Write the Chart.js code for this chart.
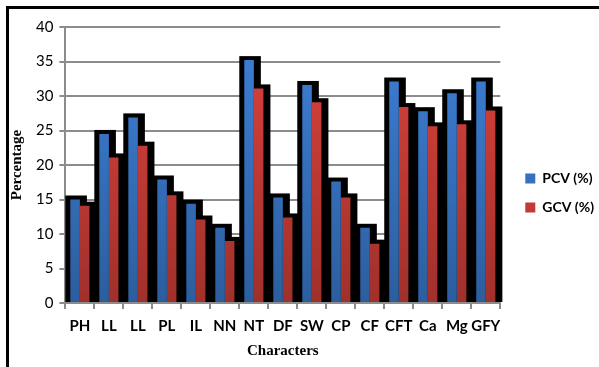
<!DOCTYPE html>
<html lang="en">
  <head>
    <meta charset="UTF-8" />
    <title>PCV and GCV</title>
    <script src="https://cdn.jsdelivr.net/npm/chart.js"></script>
    <style>
      body {
        margin: 0;
        background: #fff;
      }
      .frame {
        position: absolute;
        left: 6px;
        top: 6px;
        width: 600px;
        height: 370px;
        border-top: 3px solid #000;
        border-left: 3px solid #000;
      }
      .chart-box {
        position: absolute;
        left: 0;
        top: 0;
        width: 599px;
        height: 367px;
      }
    </style>
  </head>
  <body>
    <div class="frame"></div>
    <div class="chart-box">
      <canvas id="myChart" width="599" height="367"></canvas>
    </div>
    <script>
      const characters = ["PH", "LL", "LL", "PL", "IL", "NN", "NT", "DF", "SW", "CP", "CF", "CFT", "Ca", "Mg", "GFY"];
      const pcv = [15.0, 24.5, 26.9, 17.9, 14.4, 10.9, 35.2, 15.3, 31.6, 17.6, 10.9, 32.1, 27.8, 30.4, 32.1];
      const gcv = [14.1, 21.1, 22.8, 15.6, 12.1, 9.0, 31.1, 12.4, 29.1, 15.3, 8.6, 28.4, 25.6, 25.9, 27.9];
      const yMin = 0;
      const yMax = 40;
      const yStep = 5;

      // vertical gradient over the plot area, light at top
      const makeGradient = function (top, bottom) {
        return function (context) {
          const area = context.chart.chartArea;
          if (!area) return bottom;
          const g = context.chart.ctx.createLinearGradient(0, area.top, 0, area.bottom);
          g.addColorStop(0, top);
          g.addColorStop(1, bottom);
          return g;
        };
      };

      // black block behind every bar (the old excel shadow look)
      const shadowPlugin = {
        id: "shadow",
        beforeDatasetsDraw(chart) {
          const c = chart.ctx;
          c.save();
          c.fillStyle = "#000";
          chart.data.datasets.forEach(function (ds, i) {
            chart.getDatasetMeta(i).data.forEach(function (bar) {
              const p = bar.getProps(["x", "y", "base", "width"], true);
              const left = p.x - p.width / 2 - 5;
              const right = p.x + p.width / 2 + 7;
              c.fillRect(left, p.y - 4, right - left, p.base - p.y + 4);
            });
          });
          c.restore();
        },
      };

      // push the legend a bit further away from the plot
      const legendShift = {
        id: "legendShift",
        afterLayout(chart) {
          chart.legend.left += 10;
          chart.legend.right += 10;
        },
      };

      const ctx = document.getElementById("myChart");
      new Chart(ctx, {
        type: "bar",
        data: {
          labels: characters,
          datasets: [
            {
              label: "PCV (%)",
              data: pcv,
              backgroundColor: makeGradient("#3d80d8", "#2c5e9e"),
            },
            {
              label: "GCV (%)",
              data: gcv,
              backgroundColor: makeGradient("#dc433c", "#a0302b"),
            },
          ],
        },
        options: {
          responsive: false,
          animation: false,
          events: [],
          categoryPercentage: 0.66,
          barPercentage: 1,
          layout: {
            padding: { left: 8, top: 27, right: 5, bottom: 8 },
          },
          scales: {
            x: {
              grid: {
                display: true,
                drawOnChartArea: false,
                color: "#8c8c8c",
                lineWidth: 2,
                tickLength: 6,
              },
              border: { color: "#8c8c8c", width: 2 },
              ticks: {
                color: "#000",
                font: { family: "Lato", weight: "bold", size: 15 },
                maxRotation: 0,
                autoSkip: false,
                padding: 8,
              },
              title: {
                display: true,
                text: "Characters",
                color: "#000",
                font: { family: "Liberation Serif", weight: "bold", size: 15, lineHeight: 1 },
                padding: { top: 1, bottom: 0 },
              },
            },
            y: {
              min: yMin,
              max: yMax,
              ticks: {
                stepSize: yStep,
                color: "#000",
                font: { family: "Lato", size: 15 },
                padding: 6,
              },
              grid: {
                color: "#8c8c8c",
                lineWidth: 2,
                tickLength: 6,
              },
              border: { color: "#8c8c8c", width: 2 },
              title: {
                display: true,
                text: "Percentage",
                color: "#000",
                font: { family: "Liberation Serif", weight: "bold", size: 15 },
                padding: { top: 0, bottom: 4 },
              },
            },
          },
          plugins: {
            tooltip: { enabled: false },
            legend: {
              position: "right",
              labels: {
                boxWidth: 10,
                boxHeight: 10,
                padding: 15,
                color: "#000",
                font: { family: "Lato", weight: "bold", size: 14 },
                generateLabels: function () {
                  return [
                    { text: "PCV (%)", fillStyle: "#3670c0", strokeStyle: "#3670c0", lineWidth: 0, datasetIndex: 0 },
                    { text: "GCV (%)", fillStyle: "#c33a34", strokeStyle: "#c33a34", lineWidth: 0, datasetIndex: 1 },
                  ];
                },
              },
            },
          },
        },
        plugins: [shadowPlugin, legendShift],
      });
    </script>
  </body>
</html>
